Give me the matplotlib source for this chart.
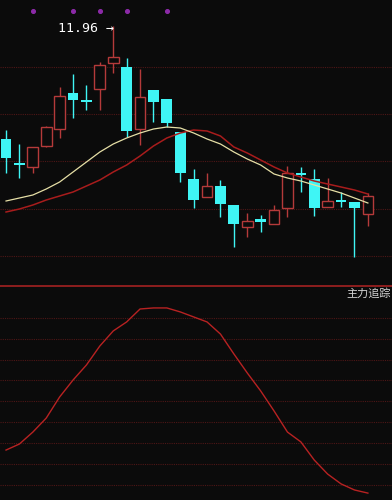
import numpy as np
import matplotlib
matplotlib.use("Agg")
import matplotlib.pyplot as plt

# daily candles (price)
opens = [10.83, 10.59, 10.55, 10.76, 10.93, 11.29, 11.22, 11.33, 11.59, 11.55,
         10.93, 11.32, 11.23, 10.90, 10.43, 10.25, 10.36, 10.17, 9.95, 10.03,
         9.98, 10.14, 10.49, 10.43, 10.15, 10.22, 10.20, 10.08]
closes = [10.64, 10.58, 10.75, 10.95, 11.26, 11.22, 11.21, 11.57, 11.65, 10.91,
          11.25, 11.20, 10.99, 10.49, 10.22, 10.36, 10.18, 9.98, 10.01, 10.00,
          10.12, 10.49, 10.47, 10.14, 10.21, 10.21, 10.14, 10.26]
highs = [10.92, 10.78, 10.75, 10.96, 11.35, 11.48, 11.37, 11.60, 11.96, 11.64,
         11.53, 11.32, 11.23, 10.90, 10.53, 10.49, 10.42, 10.17, 10.09, 10.07,
         10.17, 10.56, 10.55, 10.53, 10.44, 10.30, 10.20, 10.29]
lows = [10.49, 10.44, 10.49, 10.75, 10.84, 11.04, 11.12, 11.12, 11.49, 10.85,
        10.77, 11.00, 10.95, 10.40, 10.14, 10.25, 10.05, 9.75, 9.85, 9.90,
        9.98, 10.05, 10.30, 10.06, 10.15, 10.15, 9.65, 9.96]

ma_short = [10.21, 10.24, 10.27, 10.33, 10.40, 10.50, 10.60, 10.70, 10.78, 10.84,
            10.89, 10.93, 10.95, 10.94, 10.89, 10.83, 10.78, 10.70, 10.63, 10.57,
            10.48, 10.44, 10.41, 10.37, 10.33, 10.29, 10.24, 10.19]
ma_long = [10.10, 10.13, 10.17, 10.22, 10.26, 10.30, 10.36, 10.42, 10.50, 10.57,
           10.66, 10.76, 10.84, 10.89, 10.92, 10.91, 10.86, 10.75, 10.69, 10.62,
           10.55, 10.49, 10.45, 10.41, 10.38, 10.35, 10.32, 10.28]

# 主力追踪 indicator
tracking = [23.9, 26.8, 32.5, 39.2, 49.3, 57.4, 64.6, 73.7, 80.9, 85.2,
            91.4, 91.9, 91.9, 90.0, 87.6, 85.2, 79.4, 69.9, 60.8, 52.2,
            42.6, 32.5, 27.8, 19.1, 12.4, 7.7, 4.8, 3.3]

signal_days = [2, 5, 7, 9, 12]
peak_label = "11.96"

BG = "#0b0b0b"
CYAN = "#3ff5f5"
RED = "#b53a3a"
GRID = "#4e1616"

fig = plt.figure(figsize=(3.92, 5.0), dpi=100, facecolor=BG)
ax = fig.add_axes([0, 214 / 500, 1, 286 / 500], facecolor=BG)
ax2 = fig.add_axes([0, 0, 1, 214 / 500], facecolor=BG)

x = np.arange(len(opens))
w = 0.8
for i in x:
    o, c, h, l = opens[i], closes[i], highs[i], lows[i]
    if c > o:
        ax.vlines(i, c, h, color=RED, lw=1, zorder=3)
        ax.vlines(i, l, o, color=RED, lw=1, zorder=3)
        ax.bar(i, c - o, w, bottom=o, facecolor=BG, edgecolor=RED, lw=1, zorder=4)
    else:
        ax.vlines(i, l, h, color=CYAN, lw=1, zorder=3)
        hgt = max(o - c, 0.02)
        ax.bar(i, hgt, w, bottom=o - hgt, color=CYAN, lw=0, zorder=4)

ax.plot(x, ma_long, color="#a81c1c", lw=1.1, zorder=5)
ax.plot(x, ma_short, color="#e6dfa6", lw=0.9, zorder=6)

ax.scatter(signal_days, [12.11] * len(signal_days), s=7, color="#8c2aa8", zorder=6)

top = int(np.argmax(highs))
ax.text(top + 0.05, highs[top] - 0.02, peak_label + " \u2192", color="white",
        fontsize=9.5, family="DejaVu Sans Mono", ha="right", va="center")

for gy in [11.55, 11.08, 10.61, 10.13, 9.66]:
    ax.axhline(gy, color=GRID, lw=0.8, ls=(0, (1, 1)), zorder=1)

ax.set_xlim(-0.45, 28.8)
ax.set_ylim(9.36, 12.22)
ax.axis("off")

ax2.plot(x, tracking, color="#b82222", lw=1.0, zorder=3)
for gv in np.arange(7.2, 90, 10):
    ax2.axhline(gv, color=GRID, lw=0.8, ls=(0, (1, 1)), zorder=1)
ax2.axhline(102.4, color="#8e1e1e", lw=1.4, clip_on=False, zorder=2)
ax2.text(28.75, 98.8, "主力追踪", color="#d4d4d4", fontsize=8,
         family=["Noto Sans CJK SC", "DejaVu Sans"], ha="right", va="center")
ax2.set_xlim(-0.45, 28.8)
ax2.set_ylim(0, 102.4)
ax2.axis("off")

fig.savefig("out.png", dpi=100, facecolor=BG)
